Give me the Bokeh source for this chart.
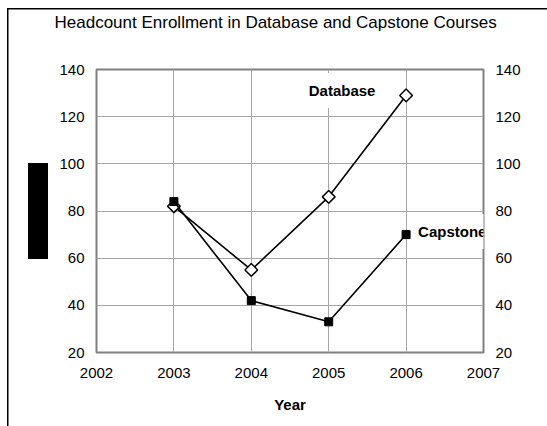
import math
from bokeh.plotting import figure
from bokeh.models import LinearAxis, FixedTicker, Label, Range1d
from bokeh.embed import file_html
from bokeh.resources import INLINE

# ---- data ----
years = [2003, 2004, 2005, 2006]
database = [82, 55, 86, 129]
capstone = [84, 42, 33, 70]
x_ticks = [2002, 2003, 2004, 2005, 2006, 2007]
y_ticks = [20, 40, 60, 80, 100, 120, 140]
title_text = "Headcount Enrollment in Database and Capstone Courses"
x_label = "Year"
series_names = ["Database", "Capstone"]

FONT = "Liberation Sans"

# page decoration: outer chart border (left/top edges) and the black block at left
page_styles = {
    "background-color": "white",
    "background-image": ", ".join(["linear-gradient(#000,#000)"] * 3),
    "background-size": "1.5px 100%, 100% 1.5px, 20px 96px",
    "background-position": "7px 8px, 7px 8px, 28px 163px",
    "background-repeat": "no-repeat",
}

p = figure(width=547, height=426, output_backend="svg", toolbar_location=None,
           x_range=Range1d(x_ticks[0], x_ticks[-1]), y_range=Range1d(y_ticks[0], y_ticks[-1]),
           min_border_left=96, min_border_right=64, min_border_top=69, min_border_bottom=74,
           border_fill_color=None, background_fill_color="white", styles=page_styles)

p.title.text = title_text
p.title.align = "left"
p.title.offset = -42
p.title.standoff = 10
p.title.text_font = FONT
p.title.text_font_size = "17px"
p.title.text_font_style = "normal"
p.title.text_color = "black"

xa = p.below[0]
ya = p.left[0]
xa.ticker = FixedTicker(ticks=x_ticks)
ya.ticker = FixedTicker(ticks=y_ticks)
xa.axis_label = x_label
yr = LinearAxis(ticker=FixedTicker(ticks=y_ticks))
p.add_layout(yr, "right")

# blank spacer between the title and the plot area
spacer = LinearAxis(ticker=FixedTicker(ticks=[x_ticks[0]]), axis_line_color=None,
                    major_tick_line_color=None, minor_tick_line_color=None,
                    major_tick_out=18, major_tick_in=0, major_label_standoff=0,
                    major_label_overrides={x_ticks[0]: " "})
p.add_layout(spacer, "above")

for ax in (xa, ya, yr):
    ax.axis_line_color = None
    ax.major_tick_line_color = None
    ax.minor_tick_line_color = None
    ax.major_tick_out = 0
    ax.major_tick_in = 0
    ax.major_label_text_font = FONT
    ax.major_label_text_font_size = "15px"
    ax.major_label_text_color = "black"
    ax.major_label_standoff = 12
xa.major_label_standoff = 15
xa.axis_label_text_font = FONT
xa.axis_label_text_font_size = "15px"
xa.axis_label_text_font_style = "bold"
xa.axis_label_text_color = "black"
xa.axis_label_standoff = 15

p.xgrid.ticker = FixedTicker(ticks=x_ticks)
p.ygrid.ticker = FixedTicker(ticks=y_ticks)
p.grid.grid_line_color = "#a6a6a6"
p.grid.grid_line_width = 1
p.outline_line_color = "#808080"
p.outline_line_width = 2

p.line(years, database, line_color="black", line_width=1.6)
p.scatter(years, database, marker="square", angle=math.pi / 4, size=9,
          fill_color="white", line_color="black", line_width=1.5)
p.line(years, capstone, line_color="black", line_width=1.6)
p.scatter(years, capstone, marker="square", size=8,
          fill_color="black", line_color="black")

p.add_layout(Label(x=years[-1], y=database[-1], text=series_names[0],
                   x_offset=-64, y_offset=5, text_align="center", text_baseline="middle",
                   text_font=FONT, text_font_size="15px", text_font_style="bold",
                   text_color="black", background_fill_color="white",
                   padding=dict(left=6, right=6, top=9, bottom=9)))
p.add_layout(Label(x=years[-1], y=capstone[-1], text=series_names[1],
                   x_offset=9, y_offset=3, text_align="left", text_baseline="middle",
                   text_font=FONT, text_font_size="15px", text_font_style="bold",
                   text_color="black", background_fill_color="white",
                   padding=dict(left=3, right=3, top=9, bottom=9)))

open("out.html", "w").write(file_html(p, INLINE))
